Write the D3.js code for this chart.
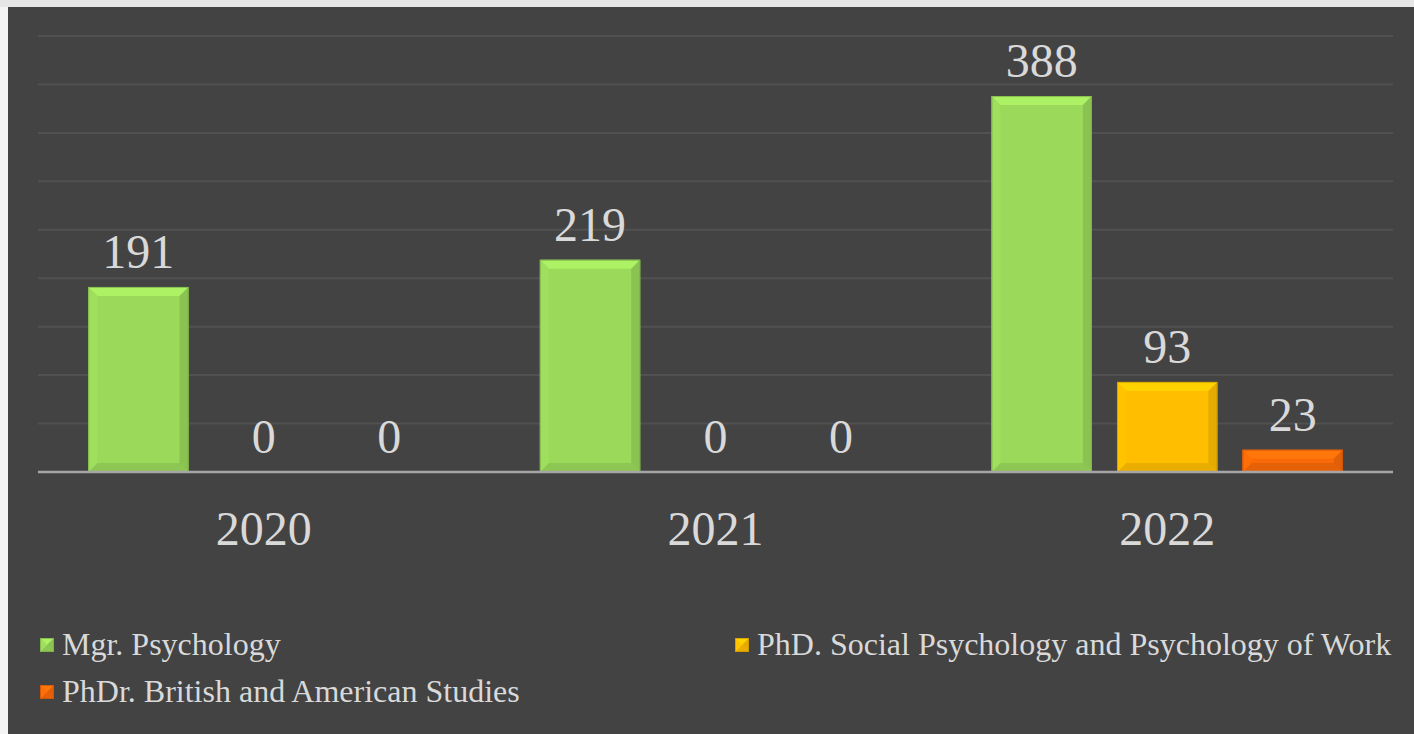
<!DOCTYPE html>
<html>
<head>
<meta charset="utf-8">
<script src="https://d3js.org/d3.v7.min.js"></script>
<style>
  html, body { margin: 0; padding: 0; background: #ffffff; }
  svg { display: block; }
  text { font-family: "Liberation Serif", "Times New Roman", "DejaVu Serif", serif; fill: #d9d9d9; }
</style>
</head>
<body>
<svg id="chart" width="1414" height="734"></svg>
<script>
/* Data */
const years = ['2020', '2021', '2022'];
const programmes = [
  'Mgr. Psychology',
  'PhD. Social Psychology and Psychology of Work',
  'PhDr. British and American Studies'
];
const mgrPsychology = [191, 219, 388];
const phdSocialPsychology = [0, 0, 93];
const phdrBritishAmerican = [0, 0, 23];
const colours = ['#9bd95b', '#ffbe00', '#fa6a09'];

const seriesValues = [mgrPsychology, phdSocialPsychology, phdrBritishAmerican];

/* SVG */
const svg = d3.select('#chart');
const width = +svg.attr('width');
const height = +svg.attr('height');

// page frame: light strip on top, white-ish on the left, dark panel
svg.append('rect').attr('width', width).attr('height', height).attr('fill', '#f4f4f4');
svg.append('rect').attr('width', width).attr('height', 7).attr('fill', '#e6e6e6');
svg.append('rect').attr('x', 8).attr('y', 7).attr('width', width - 8).attr('height', height - 7).attr('fill', '#434343');

/* Scales */
const plot = { left: 38, right: 1393, top: 36, bottom: 472 };

const x0 = d3.scaleBand().domain(years).range([plot.left, plot.right]).padding(0);
const x1 = d3.scaleBand().domain(d3.range(programmes.length))
  .range([0, x0.bandwidth()])
  .paddingInner(0.2)
  .paddingOuter(0.4);
const y = d3.scaleLinear().domain([0, 450]).range([plot.bottom, plot.top]);

/* Gridlines */
svg.append('g')
  .selectAll('line')
  .data(y.ticks(9).filter(d => d > 0))
  .join('line')
  .attr('x1', plot.left).attr('x2', plot.right)
  .attr('y1', d => y(d)).attr('y2', d => y(d))
  .attr('stroke', '#515151')
  .attr('stroke-width', 2);

/* Bevelled block */
function bevel(g, bx, by, w, h, colour, b) {
  if (h <= 0) return;
  b = Math.min(b, h / 2, w / 2);
  const c = d3.color(colour);
  g.append('rect').attr('x', bx).attr('y', by).attr('width', w).attr('height', h).attr('fill', colour);
  const faces = [
    [[bx, by], [bx + w, by], [bx + w - b, by + b], [bx + b, by + b], c.brighter(0.3)],
    [[bx, by + h], [bx + w, by + h], [bx + w - b, by + h - b], [bx + b, by + h - b], c.darker(0.25)],
    [[bx, by], [bx + b, by + b], [bx + b, by + h - b], [bx, by + h], c.brighter(0.08)],
    [[bx + w, by], [bx + w - b, by + b], [bx + w - b, by + h - b], [bx + w, by + h], c.darker(0.3)]
  ];
  faces.forEach(f => {
    g.append('polygon')
      .attr('points', f.slice(0, 4).map(p => p.join(',')).join(' '))
      .attr('fill', f[4]);
  });
  g.append('rect').attr('x', bx + 0.5).attr('y', by + 0.5).attr('width', w - 1).attr('height', h - 1)
    .attr('fill', 'none').attr('stroke', c.darker(0.7)).attr('stroke-opacity', 0.7);
}

/* Bars */
const barsG = svg.append('g');
years.forEach((yr, i) => {
  seriesValues.forEach((vals, s) => {
    const v = vals[i];
    const bx = x0(yr) + x1(s);
    const by = y(v);
    bevel(barsG, bx, by, x1.bandwidth(), y(0) - by, colours[s], 9);
    barsG.append('text')
      .attr('x', bx + x1.bandwidth() / 2)
      .attr('y', by - 19)
      .attr('text-anchor', 'middle')
      .attr('font-size', 48)
      .text(v);
  });
});

/* Baseline */
svg.append('line')
  .attr('x1', plot.left).attr('x2', plot.right)
  .attr('y1', y(0)).attr('y2', y(0))
  .attr('stroke', '#a6a6a6').attr('stroke-width', 2.5);

/* Category labels */
svg.append('g')
  .selectAll('text')
  .data(years)
  .join('text')
  .attr('x', d => x0(d) + x0.bandwidth() / 2)
  .attr('y', 545)
  .attr('text-anchor', 'middle')
  .attr('font-size', 48)
  .text(d => d);

/* Legend */
const legendPos = [[40, 655], [735, 655], [40, 702]];
const legend = svg.append('g');
programmes.forEach((p, i) => {
  const [lx, ly] = legendPos[i];
  bevel(legend, lx, ly - 17, 14, 14, colours[i], 7);
  legend.append('text')
    .attr('x', lx + 22)
    .attr('y', ly)
    .attr('font-size', 32)
    .text(p);
});
</script>
</body>
</html>
